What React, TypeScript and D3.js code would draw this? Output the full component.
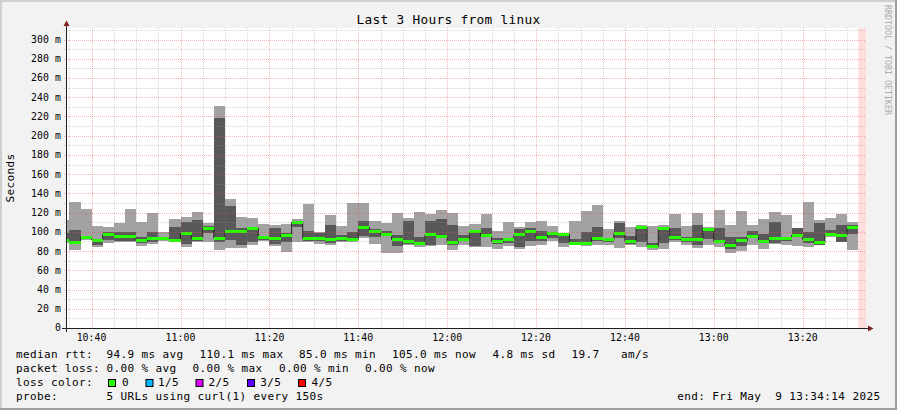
import React from 'react';
import * as d3 from 'd3';

const W = 897;
const H = 410;
const X0 = 66;
const X1 = 866;
const YT = 28;
const YB = 328;

const startTime = Date.UTC(2025, 4, 9, 10, 34, 14);
const endTime = Date.UTC(2025, 4, 9, 13, 34, 14);
const firstBarEnd = Date.UTC(2025, 4, 9, 10, 35, 0);
const STEP = 150 * 1000;

// sorted ping values per 150s step (ms)
const pingMin = [88.5, 81, 92, 84.5, 88, 89, 89, 85.5, 87.5, 90, 89, 84.5, 89.5, 89.5, 81, 83.5, 83, 86, 90.5, 85.5, 79.5, 89.5, 89.5, 87, 86, 89.5, 89.5, 93.5, 87.5, 77.5, 78.5, 86.5, 84, 85.5, 86, 81, 86, 84, 84, 82, 85.5, 82, 85.5, 86, 91, 84, 86, 85.5, 86, 86, 83, 86, 84, 81, 82, 89.5, 86, 83, 86.5, 84, 78.5, 80, 86.5, 82, 87.5, 86.5, 85.5, 84, 86, 94.5, 89, 81];
const pingLow = [89.5, 88, 92.5, 86, 92, 90, 90, 88, 89, 91.5, 90, 87, 90.5, 99, 89, 92, 86.5, 89, 91.5, 87, 89.5, 105.5, 91, 90, 88, 91, 90, 96, 95, 96, 85.5, 87.5, 86, 86.5, 94.5, 86, 90, 85.5, 94.5, 87, 88, 84, 90, 91, 93.5, 88, 86.5, 86, 91, 89.5, 93.5, 87.5, 89.5, 83, 88, 92, 89.5, 86, 93, 89.5, 82.5, 85.5, 94.5, 89.5, 88, 90, 94.5, 88, 86.5, 95.5, 89.5, 98];
const pingMedian = [91, 89, 94, 91.5, 97.5, 95, 95, 90.5, 93.5, 93, 91.5, 98, 93, 103.5, 93.5, 100.5, 100.5, 104, 94.5, 93.5, 96, 110.1, 93, 93, 92, 93.5, 92, 104.5, 100, 97.5, 92, 89.5, 87.5, 97, 95.5, 88.5, 92.5, 100, 96, 90, 92, 97, 100, 94.5, 98, 97.5, 87.5, 87.5, 93.5, 92, 98.5, 89.5, 104.5, 85, 103.5, 94.5, 92, 92, 102, 90, 85.5, 90.5, 95.5, 90, 93.5, 93, 96.5, 92, 88.5, 97, 96.5, 105];
const pingHigh = [99, 102, 96, 93, 100, 100, 100, 95, 100, 94.5, 105, 110, 112, 106.5, 218, 127, 104, 105, 95.5, 104, 98.5, 111, 100.5, 99, 107.5, 96.5, 100, 111, 103, 100.5, 97, 111, 94.5, 111, 113.5, 107.5, 97, 100.5, 103.5, 93.5, 93.5, 102.5, 104, 100.5, 99, 98, 93, 100, 105, 93.5, 109.5, 95.5, 106, 88, 104.5, 104, 94.5, 107.5, 102.5, 104, 94.5, 94.5, 100.5, 98, 110, 94.5, 104, 100, 109, 101.5, 107.5, 107.5];
const pingMax = [112, 131, 124, 106, 105.5, 109.5, 124, 110, 120, 100, 113, 115, 120.5, 109.5, 231, 134.5, 115.5, 114.5, 108, 107.5, 108, 113.5, 129, 100, 118, 106, 130, 130, 111.5, 109.5, 120, 114.5, 120.5, 118.5, 122.5, 120, 106.5, 108.5, 118.5, 100.5, 110, 105, 110, 111, 106, 98.5, 111, 121.5, 128, 102.5, 111, 105, 107.5, 106, 107.5, 118.5, 106, 119.5, 105, 122.5, 107.5, 121.5, 107.5, 113, 120.5, 118, 104.5, 131, 112, 114.5, 118.5, 110];

const yTickValues = [0, 20, 40, 60, 80, 100, 120, 140, 160, 180, 200, 220, 240, 260, 280, 300];
const yMinorValues = [10, 30, 50, 70, 90, 110, 130, 150, 170, 190, 210, 230, 250, 270, 290, 310];

const lossLabels = ['0', '1/5', '2/5', '3/5', '4/5'];
const lossColors = ['#26ff00', '#00b8ff', '#dd00ff', '#5e00ff', '#ff0000'];

const legendLine1: [string, number][] = [
  ['median rtt:', 16], ['94.9 ms avg', 106.5], ['110.1 ms max', 199.5], ['85.0 ms min', 299],
  ['105.0 ms now', 392], ['4.8 ms sd', 492.5], ['19.7', 571.5], ['am/s', 621],
];
const legendLine2: [string, number][] = [
  ['packet loss:', 16], ['0.00 % avg', 106.5], ['0.00 % max', 192.5], ['0.00 % min', 279], ['0.00 % now', 365],
];
const lossBoxX = [108, 145.5, 195.5, 247, 298];
const lossLabelX = [122, 158, 208.5, 260.3, 311.6];

const MONO = '"DejaVu Sans Mono", monospace';

export default function App() {
  const x = d3.scaleUtc().domain([startTime, endTime]).range([X0, X1]);
  const y = d3.scaleLinear().domain([0, 312]).range([YB, YT]);

  const bars = pingMedian.map((m, k) => {
    const t1 = firstBarEnd + k * STEP;
    const t0 = t1 - STEP;
    return {
      xa: Math.max(x(t0), X0),
      xb: x(t1),
      min: pingMin[k], low: pingLow[k], med: m, high: pingHigh[k], max: pingMax[k],
    };
  });
  const lastEnd = bars[bars.length - 1].xb;

  const medPts: [number, number][] = bars.map((b) => [b.xa, y(b.med)]);
  medPts.push([lastEnd, y(bars[bars.length - 1].med)]);
  const medLine = d3.line().curve(d3.curveStepAfter)(medPts) || '';

  const minorTimes = d3.utcMinute.every(5)!.range(new Date(startTime), new Date(endTime))
    .filter((d) => d.getUTCMinutes() % 20 !== 0);
  const majorTimes = d3.utcMinute.every(20)!.range(new Date(startTime), new Date(endTime));
  const fmt = d3.utcFormat('%H:%M');

  const gridGray = 'rgba(143,143,143,0.75)';
  const gridRed = 'rgba(222,79,79,0.6)';

  const legendFont = { fontFamily: MONO, fontSize: 11, letterSpacing: 0.38 };

  return (
    <svg width={W} height={H} style={{ position: 'absolute', left: 0, top: 0 }} xmlns="http://www.w3.org/2000/svg">
      <rect x={0} y={0} width={W} height={H} fill="#f2f2f2" />
      <rect x={0} y={0} width={W} height={2} fill="#cfcfcf" />
      <rect x={0} y={0} width={2} height={H} fill="#cfcfcf" />
      <rect x={0} y={H - 2} width={W} height={2} fill="#9e9e9e" />
      <rect x={W - 2} y={0} width={2} height={H} fill="#9e9e9e" />

      <rect x={X0} y={YT} width={X1 - X0} height={YB - YT} fill="#ffffff" />
      <rect x={lastEnd} y={YT} width={X1 - lastEnd} height={YB - YT} fill="#ffdddd" />

      <g shapeRendering="crispEdges">
        {bars.map((b, i) => (
          <rect key={'o' + i} x={b.xa} y={y(b.max)} width={b.xb - b.xa} height={y(b.min) - y(b.max)} fill="#a2a2a2" />
        ))}
        {bars.map((b, i) => (
          <rect key={'i' + i} x={b.xa} y={y(b.high)} width={b.xb - b.xa} height={y(b.low) - y(b.high)} fill="#585858" />
        ))}
      </g>
      <path d={medLine} fill="none" stroke="#202020" strokeWidth={1} />
      <g shapeRendering="crispEdges">
        {bars.map((b, i) => (
          <rect key={'g' + i} x={b.xa} y={y(b.med) - 1.5} width={b.xb - b.xa} height={3} fill={lossColors[0]} />
        ))}
      </g>

      {/* grid */}
      <g strokeDasharray="1,1">
        {yMinorValues.filter((v) => y(v) >= YT).map((v) => (
          <line key={'ym' + v} x1={X0 - 2} x2={X1} y1={Math.round(y(v)) + 0.5} y2={Math.round(y(v)) + 0.5} stroke={gridGray} strokeWidth={0.5} />
        ))}
        {minorTimes.map((t) => (
          <line key={'xm' + +t} x1={Math.round(x(t)) + 0.5} x2={Math.round(x(t)) + 0.5} y1={YT} y2={YB + 2} stroke={gridGray} strokeWidth={0.5} />
        ))}
        {yTickValues.map((v) => (
          <line key={'yM' + v} x1={X0 - 2} x2={X1} y1={Math.round(y(v)) + 0.5} y2={Math.round(y(v)) + 0.5} stroke={gridRed} strokeWidth={0.7} />
        ))}
        {majorTimes.map((t) => (
          <line key={'xM' + +t} x1={Math.round(x(t)) + 0.5} x2={Math.round(x(t)) + 0.5} y1={YT} y2={YB + 2} stroke={gridRed} strokeWidth={0.7} />
        ))}
      </g>

      {/* axes */}
      <line x1={X0 - 4} x2={X1 + 4} y1={YB + 0.5} y2={YB + 0.5} stroke="#1f1f1f" strokeWidth={1} />
      <line x1={X0 + 0.5} x2={X0 + 0.5} y1={YB + 4} y2={YT - 4} stroke="#1f1f1f" strokeWidth={1} />
      <polygon points={`${X1 + 2},${YB - 2.5} ${X1 + 2},${YB + 3.5} ${X1 + 7.5},${YB + 0.5}`} fill="#801f1f" />
      <polygon points={`${X0 - 2.5},${YT - 2} ${X0 + 3.5},${YT - 2} ${X0 + 0.5},${YT - 7.5}`} fill="#801f1f" />

      {/* axis labels */}
      <g fontFamily={MONO} fontSize={9.8} letterSpacing={0.1} fill="#000">
        {yTickValues.map((v) => (
          <text key={'yl' + v} x={61} y={y(v)} dy="0.35em" textAnchor="end" xmlSpace="preserve">
            {v === 0 ? '0' : `${v} m`}
          </text>
        ))}
        {majorTimes.map((t) => (
          <text key={'xl' + +t} x={x(t)} y={341} textAnchor="middle">{fmt(t)}</text>
        ))}
      </g>

      <text x={448.5} y={23.5} textAnchor="middle" fontFamily={MONO} fontSize={12.8} letterSpacing={0.3} fill="#000">Last 3 Hours from linux</text>
      <text transform={`translate(14,${(YT + YB) / 2}) rotate(-90)`} textAnchor="middle" {...legendFont} fill="#000">Seconds</text>
      <text transform={`translate(885,5) rotate(90)`} fontFamily={MONO} fontSize={8.3} fill="#aaaaaa">RRDTOOL / TOBI OETIKER</text>

      {/* legend */}
      <g {...legendFont} fill="#000">
        {legendLine1.map(([s, px]) => (
          <text key={'l1' + s} x={px} y={357.7} xmlSpace="preserve">{s}</text>
        ))}
        {legendLine2.map(([s, px], i) => (
          <text key={'l2' + i} x={px} y={371.7} xmlSpace="preserve">{s}</text>
        ))}
        <text x={16} y={385.7}>loss color:</text>
        {lossLabels.map((s, i) => (
          <g key={'lc' + i}>
            <rect x={lossBoxX[i] + 0.5} y={379.5} width={7} height={7} fill={lossColors[i]} stroke="#000" strokeWidth={1} />
            <text x={lossLabelX[i]} y={385.7}>{s}</text>
          </g>
        ))}
        <text x={16} y={399.5}>probe:</text>
        <text x={106.5} y={399.5}>5 URLs using curl(1) every 150s</text>
        <text x={880.4} y={399.5} textAnchor="end" xmlSpace="preserve">{'end: Fri May\u00a0\u00a09 13:34:14 2025'}</text>
      </g>
    </svg>
  );
}
